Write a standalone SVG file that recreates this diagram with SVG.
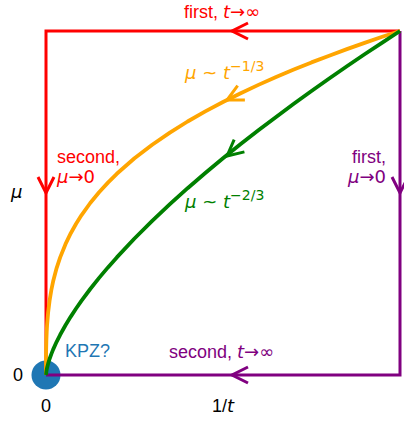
<svg xmlns="http://www.w3.org/2000/svg" width="404" height="424" viewBox="0 0 404 424">
<style>
.ln{fill:none;stroke-width:3;stroke-linejoin:miter;stroke-linecap:butt}
.cv{fill:none;stroke-width:3.8;stroke-linecap:butt;stroke-linejoin:round}
text{font-family:"Liberation Sans",Arial,sans-serif;font-size:18px}
.m{font-family:"DejaVu Sans",sans-serif;font-size:18px}
.it{font-style:italic}
.sup{font-family:"DejaVu Sans",sans-serif;font-size:14px}
</style>
<defs>
<path id="chev" d="M16,-8 L0,0 L16,8" fill="none" stroke-width="3" stroke-linecap="butt" stroke-linejoin="miter"/>
</defs>
<rect width="404" height="424" fill="#ffffff"/>
<g id="origin"><circle cx="46" cy="375" r="14.5" fill="#1f77b4"/></g>
<g id="connectors">
<path class="ln" stroke="#ff0000" d="M400,31 H46 V375"/>
<path class="ln" stroke="#800080" d="M400,31 V375 H46"/>
<path class="cv" stroke="#ffa500" d="M46,375 L46.035,359.03 L46.106,352 L46.354,340.6 L46.708,331.7 L47.06,325.4 L48.12,312.5 L49.54,300.9 L51.31,290.2 L53.08,281.6 L56.62,268.1 L60.16,257.4 L65.47,244.2 L70.78,233.2 L76.09,223.7 L81.4,215.3 L90.25,203 L99.1,192.2 L107.95,182.6 L116.8,173.8 L134.5,158.3 L152.2,144.7 L169.9,132.6 L187.6,121.5 L205.3,111.4 L223,102 L240.7,93.2 L258.4,84.9 L276.1,77 L293.8,69.6 L311.5,62.4 L329.2,55.7 L346.9,49.1 L364.6,42.9 L382.3,36.8 L400,31"/>
<path class="cv" stroke="#008000" d="M46,375 L46.35,371.6 L46.708,369.5 L47.06,367.8 L48.12,363.6 L49.54,359 L51.31,354.1 L53.08,349.6 L56.62,341.8 L60.16,334.8 L65.47,325.3 L70.78,316.6 L76.09,308.5 L81.4,300.9 L90.25,289 L99.1,277.9 L107.95,267.4 L116.8,257.4 L134.5,238.5 L152.2,220.9 L169.9,204.2 L187.6,188.2 L205.3,173 L223,158.3 L240.7,144.1 L258.4,130.3 L276.1,116.9 L293.8,103.8 L311.5,91 L329.2,78.5 L346.9,66.3 L364.6,54.3 L382.3,42.6 L400,31"/>
<use href="#chev" stroke="#ff0000" transform="translate(232,31)"/>
<use href="#chev" stroke="#ff0000" transform="translate(46,193) rotate(-90)"/>
<use href="#chev" stroke="#800080" transform="translate(400,193) rotate(-90)"/>
<use href="#chev" stroke="#800080" transform="translate(232,375)"/>
<use href="#chev" stroke="#ffa500" transform="translate(227,100) rotate(-26.9)"/>
<use href="#chev" stroke="#008000" transform="translate(227,156) rotate(-39.8)"/>
</g>
<g id="labels">
<text x="184" y="18" fill="#ff0000">first, <tspan class="m it">t</tspan><tspan class="m">→∞</tspan></text>
<text x="185" y="79" fill="#ffa500" class="m"><tspan class="it">μ</tspan> ~ <tspan class="it">t</tspan><tspan class="sup" dy="-8">−1/3</tspan></text>
<text x="57" y="163" fill="#ff0000">second,</text>
<text x="57" y="183" fill="#ff0000" class="m"><tspan class="it">μ</tspan>→0</text>
<text x="11" y="198" fill="#000000" class="m it">μ</text>
<text x="185" y="208" fill="#008000" class="m"><tspan class="it">μ</tspan> ~ <tspan class="it">t</tspan><tspan class="sup" dy="-8">−2/3</tspan></text>
<text x="386" y="163" text-anchor="end" fill="#800080">first,</text>
<text x="386" y="183" text-anchor="end" fill="#800080" class="m"><tspan class="it">μ</tspan>→0</text>
<text x="65" y="357" fill="#1f77b4">KPZ?</text>
<text x="169" y="358" fill="#800080">second, <tspan class="m it">t</tspan><tspan class="m">→∞</tspan></text>
<text x="18" y="381" text-anchor="middle" fill="#000000">0</text>
<text x="46" y="412" text-anchor="middle" fill="#000000">0</text>
<text x="223" y="412" text-anchor="middle" fill="#000000">1/<tspan class="m it">t</tspan></text>
</g>
</svg>
